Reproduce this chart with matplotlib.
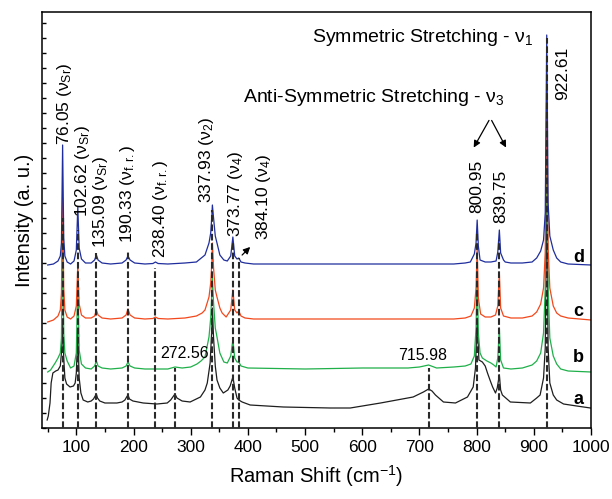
import matplotlib
matplotlib.use("Agg")
import matplotlib.pyplot as plt
from matplotlib.ticker import MultipleLocator

plt.rcParams["font.family"] = ["Liberation Sans", "DejaVu Sans"]
plt.rcParams["mathtext.fontset"] = "custom"
plt.rcParams["mathtext.rm"] = "Liberation Sans"
plt.rcParams["mathtext.it"] = "Liberation Sans:italic"
plt.rcParams["mathtext.bf"] = "Liberation Sans:bold"

# spectra (Raman shift in cm-1, intensity in arbitrary units)
shift_a = [49, 51, 54, 56, 59, 64, 68, 72, 74, 76.05, 78, 80, 83, 89, 95, 98, 100, 102.62, 105, 108,
           112, 120, 126, 130, 133, 135.09, 137, 141, 150, 171, 180, 185, 188, 190.33, 193, 199, 217,
           241, 259, 265, 270, 272.56, 276, 285, 299, 317, 325, 329, 334, 337, 337.93, 340, 343, 346,
           351, 357, 365, 369, 373.77, 377, 381, 384.1, 390, 404, 462, 544, 579, 632, 689, 707, 715.98,
           722, 728, 742, 763, 784, 794, 798, 800.95, 804, 810, 815, 819, 824, 828, 833, 836, 839.75,
           842, 845, 859, 894, 905, 911, 917, 920, 922.61, 925, 928, 934, 940, 946, 952, 975, 999]
int_a = [8, 12, 25, 45, 55, 57, 58, 62, 75, 105, 70, 50, 44, 41, 42, 45, 55, 95, 50, 35,
         28, 26, 27, 29, 32, 34, 30, 27, 25, 25, 26, 28, 31, 33, 29, 27, 25,
         24, 25, 28, 32, 34, 30, 27, 26, 31, 38, 45, 65, 100, 120, 90, 62, 48,
         40, 35, 38, 42, 51, 40, 30, 28, 26, 23, 21, 20, 20, 25, 31, 36, 39,
         37, 33, 26, 25, 31, 41, 60, 110, 68, 66, 62, 55, 47, 41, 35, 40, 53,
         38, 33, 26, 25, 30, 33, 50, 80, 250, 80, 45, 33, 28, 26, 24, 22, 20]

shift_b = [50, 55, 63, 68, 72, 74, 76.05, 78, 80, 84, 90, 96, 100, 102.62, 105, 109, 116, 126, 132,
           135.09, 138, 145, 160, 180, 187, 190.33, 194, 202, 220, 260, 272.56, 285, 300, 311, 318,
           325, 332, 335, 337, 337.93, 340, 343, 346, 351, 358, 364, 370, 373.77, 377, 381, 384.1, 388,
           400, 500, 600, 680, 700, 715.98, 730, 760, 780, 790, 796, 799, 800.95, 803, 806, 810, 818,
           825, 830, 834, 837, 839.75, 842, 847, 860, 880, 897, 905, 912, 917, 920, 922.61, 925, 928,
           934, 940, 947, 960, 1000]
int_b = [56, 58, 65, 70, 75, 90, 200, 95, 75, 67, 60, 62, 75, 150, 78, 64, 60, 59, 62,
         67, 62, 60, 59, 60, 62, 66, 62, 60, 59, 59, 61, 60, 61, 64, 67,
         71, 91, 110, 135, 150, 125, 100, 91, 75, 66, 65, 72, 88, 70, 66, 66, 62,
         60, 59, 60, 60, 61, 63, 60, 61, 62, 64, 72, 100, 160, 95, 75, 70, 67,
         65, 63, 61, 70, 100, 68, 60, 59, 60, 63, 67, 75, 95, 140, 300, 140, 90,
         72, 64, 59, 57, 56]

shift_c = [50, 60, 68, 72, 74, 76.05, 78, 80, 84, 90, 96, 100, 102.62, 105, 109, 116, 126, 132, 135.09,
           138, 145, 160, 180, 187, 190.33, 194, 202, 220, 234, 238.4, 243, 260, 290, 310, 320, 325,
           332, 335, 337, 337.93, 340, 343, 346, 351, 355, 362, 370, 373.77, 377, 381, 384.1, 388, 395,
           410, 500, 600, 700, 760, 780, 790, 796, 799, 800.95, 803, 807, 815, 825, 833, 837, 839.75,
           842, 847, 860, 880, 897, 905, 912, 917, 920, 922.61, 925, 928, 934, 940, 947, 960, 1000]
int_c = [106, 108, 112, 118, 135, 230, 140, 118, 111, 109, 112, 122, 163, 124, 113, 110, 110, 112, 118,
         113, 110, 109, 110, 113, 119, 113, 110, 109, 109.5, 111, 109.5, 109, 110, 112, 115, 118,
         131, 145, 165, 185, 160, 138, 131, 120, 115, 111, 118, 138, 118, 115, 117, 112, 110,
         109, 109, 109, 109, 109, 110, 112, 120, 140, 180, 130, 114, 111, 111, 113, 122, 155,
         120, 112, 110, 110, 112, 116, 124, 140, 175, 340, 180, 140, 122, 115, 112, 110, 108]

shift_d = [50, 60, 68, 72, 74, 76.05, 78, 80, 84, 90, 96, 100, 102.62, 105, 109, 116, 126, 132, 135.09,
           138, 145, 160, 180, 187, 190.33, 194, 202, 220, 234, 238.4, 243, 260, 290, 310, 325, 332,
           335, 337, 337.93, 340, 343, 346, 351, 358, 364, 370, 373.77, 377, 381, 384.1, 388, 395, 410,
           450, 550, 650, 720, 760, 780, 789, 796, 799, 800.95, 803, 806, 815, 825, 834, 837, 839.75,
           842, 847, 850, 860, 880, 897, 905, 912, 917, 920, 922.61, 925, 928, 934, 940, 947, 960, 1000]
int_d = [163, 164, 167, 172, 185, 283, 190, 172, 166, 164, 167, 178, 221, 180, 169, 165, 165, 168, 173,
         168, 165, 164, 165, 168, 172, 168, 165, 164, 164.5, 166, 164.5, 164, 165, 166, 173, 185,
         195, 212, 223, 210, 192, 185, 173, 168, 167, 172, 191, 172, 169, 170, 166, 165, 164,
         164, 164, 164, 164, 164, 165, 166, 174, 185, 208, 182, 168, 166, 166, 167, 176, 198,
         175, 168, 166, 165, 165, 166, 170, 177, 188, 215, 393, 225, 192, 178, 170, 166, 164, 163]

# marked peaks: position, top of the dashed guide
peak_pos = [76.05, 102.62, 135.09, 190.33, 238.40, 272.56, 337.93, 373.77, 384.10,
            715.98, 800.95, 839.75, 922.61]
peak_top = [210, 198, 175, 178, 160, 60, 218, 185, 170, 60, 195, 188, 390]

# rotated peak labels: text, x, bottom y
peak_labels = [
    (r"76.05 ($\mathregular{ν_{Sr}}$)", 78.5, 283),
    (r"102.62 ($\mathregular{ν_{Sr}}$)", 110.5, 211),
    (r"135.09 ($\mathregular{ν_{Sr}}$)", 141.5, 180),
    (r"190.33 ($\mathregular{ν_{f.r.}}$)", 189, 185),
    (r"238.40 ($\mathregular{ν_{f.r.}}$)", 247, 170),
    (r"337.93 ($\mathregular{ν_{2}}$)", 327, 225),
    (r"373.77 ($\mathregular{ν_{4}}$)", 378, 191),
    (r"384.10 ($\mathregular{ν_{4}}$)", 427, 188),
    ("800.95", 800, 215),
    ("839.75", 842, 205),
    ("922.61", 950, 328),
]

traces = [("a", shift_a, int_a, "#1e1e1e", 28),
          ("b", shift_b, int_b, "#1fb04a", 71),
          ("c", shift_c, int_c, "#f2481c", 116),
          ("d", shift_d, int_d, "#1f2e9c", 170)]

fig = plt.figure(figsize=(6.12, 4.99), dpi=100)
ax = fig.add_axes([42 / 612, 71 / 499, 549 / 612, 416 / 499])

for name, xs, ys, col, ylab in traces:
    ax.plot(xs, ys, color=col, lw=0.9, zorder=2)
    ax.text(978, ylab, name, fontsize=13, fontweight="bold", ha="center", va="center")

for p, top in zip(peak_pos, peak_top):
    ax.plot([p, p], [0, top], color="#2a2a2a", lw=1.5, ls=(0, (3.2, 1.3)), zorder=3)

for txt, x, y in peak_labels:
    ax.text(x, y, txt, rotation=90, fontsize=12.5, ha="center", va="bottom")

ax.text(288.5, 75, "272.56", fontsize=11.5, ha="center", va="center")
ax.text(705, 73, "715.98", fontsize=11.5, ha="center", va="center")

ax.text(512, 391, r"Symmetric Stretching - $\mathregular{ν_1}$", fontsize=14, ha="left", va="center")
ax.text(392, 330, r"Anti-Symmetric Stretching - $\mathregular{ν_3}$", fontsize=14, ha="left", va="center")

arrow = dict(arrowstyle="-|>", color="black", lw=0.9, mutation_scale=10)
ax.annotate("", xy=(792.5, 278), xytext=(824, 310), arrowprops=arrow)
ax.annotate("", xy=(853.8, 278), xytext=(824, 310), arrowprops=arrow)
ax.annotate("", xy=(407.5, 183), xytext=(386.5, 171), arrowprops=arrow)

ax.set_xlim(40, 1000)
ax.set_ylim(0, 416)
ax.xaxis.set_major_locator(MultipleLocator(100))
ax.xaxis.set_minor_locator(MultipleLocator(50))
ax.yaxis.set_major_locator(MultipleLocator(30))
ax.yaxis.set_minor_locator(MultipleLocator(15))
ax.tick_params(axis="x", which="major", direction="out", length=5, width=1, labelsize=12.5)
ax.tick_params(axis="x", which="minor", direction="out", length=3, width=1)
ax.tick_params(axis="y", which="both", direction="in", length=3, width=1, labelleft=False)
for s in ax.spines.values():
    s.set_linewidth(1.1)

ax.set_xlabel(r"Raman Shift (cm$^{-1}$)", fontsize=14.5, labelpad=6)
ax.set_ylabel("Intensity (a. u.)", fontsize=14.5, labelpad=6)

fig.savefig("out.png", dpi=100)
